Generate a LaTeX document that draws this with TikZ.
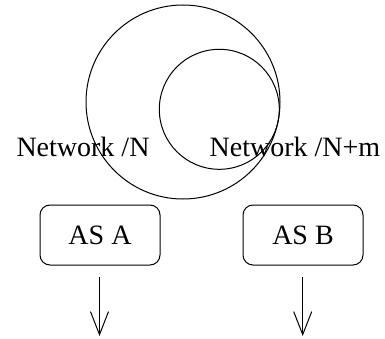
\documentclass[tikz,border=0pt]{standalone}
\usepackage{fontspec}
\setmainfont{Liberation Serif}
\usetikzlibrary{arrows.meta}
\begin{document}
\begin{tikzpicture}[x=1pt,y=-1pt,line width=1pt,
  every node/.style={font=\fontsize{28}{34}\selectfont},
  ring/.style={draw,circle,inner sep=0pt},
  label text/.style={inner sep=0pt,anchor=base},
  asbox/.style={draw,rounded corners=10pt,minimum width=120pt,minimum height=60pt,inner sep=0pt},
  flow/.style={-{Straight Barb[length=23pt,width=18pt]}}]
  \useasboundingbox (0,0) rectangle (385,339);
  % nested address ranges
  \node[ring,minimum size=194pt] (netN) at (183,102) {};
  \node[ring,minimum size=120pt] (netNm) at (219.3,109.3) {};
  \node[label text] (labN) at (83,157) {Network /N};
  \node[label text] (labNm) at (295,157) {Network /N+m};
  % autonomous systems
  \node[asbox] (asA) at (100,235) {AS A};
  \node[asbox] (asB) at (303,235) {AS B};
  \coordinate (aStart) at (99.5,277);
  \coordinate (aEnd) at (99.5,336);
  \coordinate (bStart) at (302.7,277);
  \coordinate (bEnd) at (302.7,336);
  \draw[flow] (aStart) -- (aEnd);
  \draw[flow] (bStart) -- (bEnd);
\end{tikzpicture}
\end{document}
